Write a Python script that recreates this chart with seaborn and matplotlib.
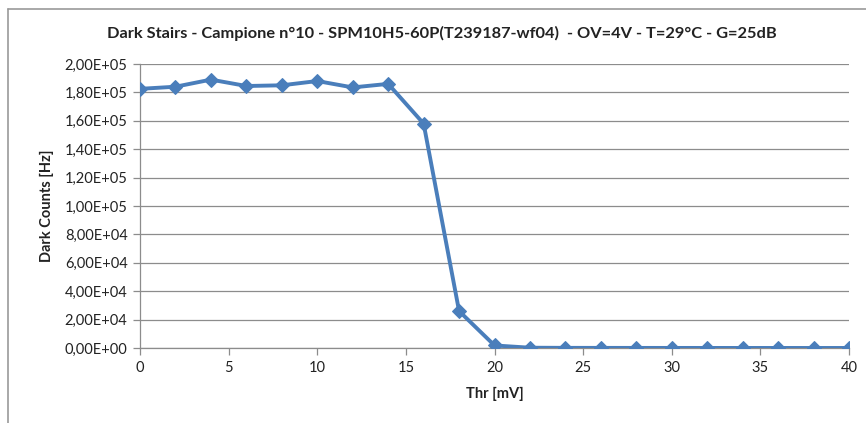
import matplotlib
matplotlib.use("Agg")
import matplotlib.pyplot as plt
import seaborn as sns
import pandas as pd
from matplotlib.ticker import FuncFormatter, MultipleLocator
from matplotlib.lines import Line2D

thr_mv = [0, 2, 4, 6, 8, 10, 12, 14, 16, 18, 20, 22, 24, 26, 28, 30, 32, 34, 36, 38, 40]
dark_counts = [182500, 184000, 189000, 184500, 185000, 188000, 183500, 186000, 158000, 26000,
               1800, 200, 100, 80, 60, 50, 40, 30, 30, 20, 20]

title = "Dark Stairs - Campione n°10 - SPM10H5-60P(T239187-wf04)  - OV=4V - T=29°C - G=25dB"
xlabel = "Thr [mV]"
ylabel = "Dark Counts [Hz]"

df = pd.DataFrame({"thr": thr_mv, "counts": dark_counts})

sns.set_theme(style="white")
plt.rcParams["font.family"] = ["Lato", "DejaVu Sans"]

fig = plt.figure(figsize=(8.66, 4.23), dpi=100)
ax = fig.add_axes([0.1617, 0.1773, 0.8187, 0.6714])

sns.lineplot(data=df, x="thr", y="counts", ax=ax, color="#4A7EBB", linewidth=2.8,
             marker="D", markersize=7, markeredgecolor="#4A7EBB", zorder=3)

ax.set_xlim(0, 40)
ax.set_ylim(0, 200000)
ax.xaxis.set_major_locator(MultipleLocator(5))
ax.yaxis.set_major_locator(MultipleLocator(20000))

def fmt(v, pos):
    if v == 0:
        return "0,00E+00"
    e = int(f"{v:.2E}".split("E")[1])
    m = v / 10 ** e
    return f"{m:.2f}".replace(".", ",") + f"E+{e:02d}"

ax.yaxis.set_major_formatter(FuncFormatter(fmt))
ax.grid(axis="y", color="#8c8c8c", linewidth=0.9)
ax.grid(axis="x", visible=False)
for s in ["top", "right"]:
    ax.spines[s].set_visible(False)
for s in ["left", "bottom"]:
    ax.spines[s].set_color("#8c8c8c")
    ax.spines[s].set_linewidth(0.9)
ax.tick_params(axis="both", direction="out", length=5, width=0.9, color="#8c8c8c",
               labelsize=10.5, labelcolor="#222222", pad=4, left=True, bottom=True)

ax.set_xlabel(xlabel, fontsize=10.5, fontweight="bold", color="#222222", labelpad=9)
ax.set_ylabel(ylabel, fontsize=10.5, fontweight="bold", color="#222222", labelpad=8)
fig.text(442 / 866, 1 - 33 / 423, title, fontsize=11.8, fontweight="bold", color="#222222",
         ha="center", va="center")

# outer chart frame (top and left edges visible)
fig.add_artist(Line2D([0.0095, 0.0095], [0.0, 1 - 9 / 423], color="#999999", linewidth=1.2,
                      transform=fig.transFigure))
fig.add_artist(Line2D([0.0095, 1.0], [1 - 9 / 423, 1 - 9 / 423], color="#999999", linewidth=1.2,
                      transform=fig.transFigure))

fig.savefig("out.png", dpi=100)
